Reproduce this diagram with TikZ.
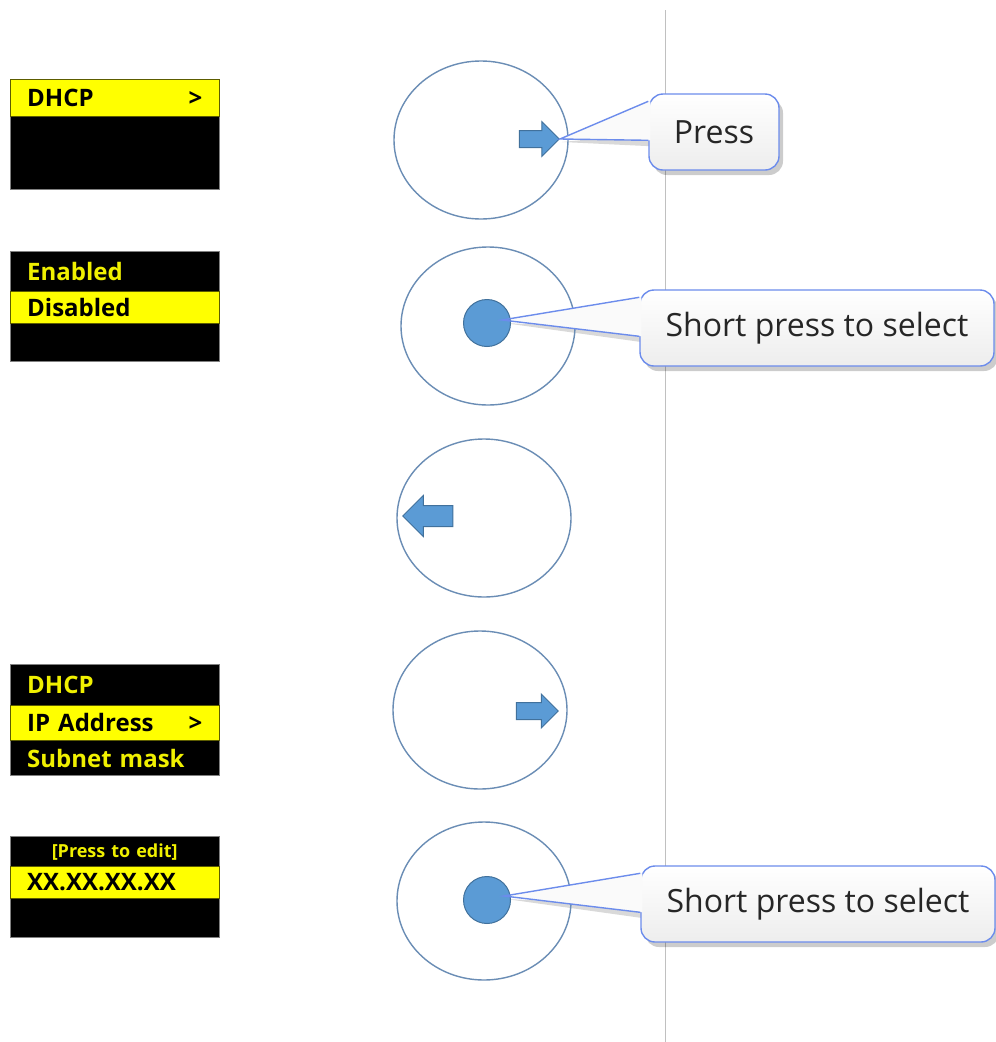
\documentclass[tikz,border=0pt]{standalone}
\usepackage{fontspec}
\setmainfont{Open Sans}
\usetikzlibrary{positioning,calc,shapes.geometric,shapes.arrows,shadows,backgrounds}
\definecolor{lcd}{HTML}{FFFF00}
\definecolor{lcdtext}{HTML}{F0F000}
\definecolor{barline}{HTML}{5C5C00}
\definecolor{dialrim}{HTML}{6A8DB5}
\definecolor{keyfill}{HTML}{5B9BD5}
\definecolor{keyline}{HTML}{41719C}
\definecolor{tipline}{HTML}{6C8CEC}
\definecolor{divider}{HTML}{C0C0C0}

\begin{document}
\begin{tikzpicture}[x=1pt,y=-1pt,
  screen/.style={draw=gray,fill=black,anchor=north west,minimum width=209pt,
                 minimum height=110pt,inner sep=0pt},
  row/.style={anchor=west,inner ysep=0pt,inner xsep=17pt,text width=175pt,align=left,
              text=lcdtext,font=\fontsize{24}{27}\selectfont\bfseries},
  hirow/.style={row,fill=lcd,draw=barline,text=black,minimum height=#1},
  hirow/.default=34pt,
  dial/.style={ellipse,draw=dialrim,line width=1.4pt,minimum width=174pt,
               minimum height=158pt,inner sep=0pt},
  key/.style={single arrow,draw=keyline,fill=keyfill,line width=1pt,inner xsep=0pt},
  dot/.style={circle,draw=keyline,fill=keyfill,line width=1pt,minimum size=47pt,inner sep=0pt},
  tipbox/.style={draw=tipline,line width=1.4pt,rounded corners=14pt,top color=white,
                 bottom color=gray!14,minimum height=76pt,inner sep=0pt,text=black!85,
                 drop shadow={shadow xshift=4pt,shadow yshift=-5pt,fill=black,opacity=.2},
                 font=\fontsize{32}{36}\selectfont}]
  \begin{scope}[on background layer]
    \fill[white] (0,0) rectangle (996,1042);
  \end{scope}
  \useasboundingbox (0,0) rectangle (996,1042);

  \draw[divider,line width=1pt] (665,10) -- (665,1042);

  % screens
  \node[screen] (scrA) at (10,79) {};
  \node[hirow=37pt] (scrAsel) at (10,97.5) {DHCP\hfill>};

  \node[screen] (scrB) at (10,251) {};
  \node[row] (scrBtop) at (10,271) {Enabled};
  \node[hirow=32pt] (scrBsel) at (10,307) {Disabled};

  \node[screen,minimum height=111pt] (scrC) at (10,664) {};
  \node[row] (scrCtop) at (10,685) {DHCP};
  \node[hirow=35pt] (scrCsel) at (10,722.5) {IP Address\hfill>};
  \node[row] (scrCbot) at (10,758) {Subnet mask};

  \node[screen,minimum height=101pt] (scrD) at (10,836) {};
  \node[row,align=center,font=\fontsize{18}{21}\selectfont\bfseries] (scrDtop) at (10,852) {[Press to edit]};
  \node[hirow=32pt] (scrDsel) at (10,882) {XX.XX.XX.XX};

  % callout boxes
  \node[tipbox,minimum width=130pt] (tipA) at (714,132) {Press};
  \node[tipbox,minimum width=354pt] (tipB) at (817,328) {Short press to select};
  \node[tipbox,minimum width=354pt] (tipE) at (818,904) {Short press to select};

  % dials
  \node[dial] (dialA) at (481,140) {};
  \node[dial] (dialB) at (488,326) {};
  \node[dial] (dialC) at (484,518) {};
  \node[dial] (dialD) at (480,710) {};
  \node[dial] (dialE) at (484,901) {};

  \node[key,minimum height=40pt,inner ysep=8pt,single arrow head extend=9pt] (keyA) at (535,139) {};
  \node[key,minimum height=50pt,inner ysep=10pt,single arrow head extend=10pt,
        shape border rotate=180] (keyC) at (433,516) {};
  \node[key,minimum height=42pt,inner ysep=8pt,single arrow head extend=8.5pt] (keyD) at (533,711) {};
  \coordinate (pinB) at (502,320);
  \coordinate (pinE) at (504,896);

  \foreach \b/\p in {tipA/keyA.tip,tipB/pinB,tipE/pinE}{
    \begin{scope}[on background layer]
      \fill[black,opacity=.15] ($(\p)+(2,3)$) -- ($(\b.north west)+(4,40)$)
                               -- ($(\b.north west)+(4,53)$) -- cycle;
    \end{scope}
    \fill[gray!4] (\p) -- ($(\b.north west)+(2,8)$) -- ($(\b.north west)+(2,47)$) -- cycle;
  }

  \node[dot] (dotB) at (487,323) {};
  \node[dot] (dotE) at (487,900) {};

  \foreach \b/\p in {tipA/keyA.tip,tipB/pinB,tipE/pinE}
    \draw[tipline,line width=1.4pt] ($(\b.north west)+(0,8)$) -- (\p) -- ($(\b.north west)+(0,47)$);
\end{tikzpicture}
\end{document}
